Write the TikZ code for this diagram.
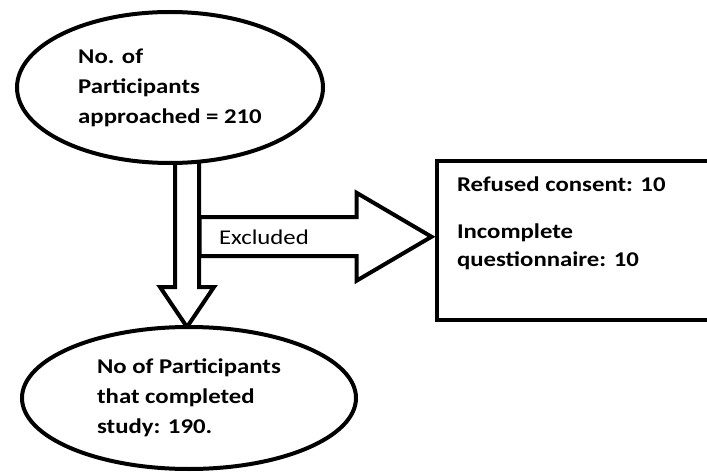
\documentclass[tikz,border=0pt]{standalone}
\usepackage{fontspec}
\setmainfont{Carlito}[FakeStretch=1.18]
\usetikzlibrary{shapes.geometric,calc,backgrounds}

\begin{document}
\begin{tikzpicture}[x=1pt, y=-1pt, line width=4pt,
    stage/.style={ellipse, draw, fill=white, outer sep=0pt, align=left,
      font=\fontsize{21}{30}\selectfont\bfseries},
    blockarrow/.style={draw, fill=white, line width=4pt, line join=miter}]
  \useasboundingbox (0,0) rectangle (707,473);
  \clip (0,0) rectangle (707,473);
  % the two counts
  \node (approached) [stage, minimum width=306pt, minimum height=151pt] at (170,87.5)
    {No. of\\Participants\\approached = 210};
  \node (completed) [stage, minimum width=334pt, minimum height=142pt] at (189,398)
    {No of Participants\\that completed\\study: 190.};
  % exclusions
  \node (excl) [draw, rectangle, outer sep=0pt, minimum width=284pt,
    minimum height=158.5pt, anchor=north west] at (436.5,161.5) {};
  \node (reasons) [anchor=north west, inner sep=0pt, align=left,
    font=\fontsize{21}{28}\selectfont\bfseries] at ($(excl.north west)+(18.5,13)$)
    {Refused consent: 10\\[19pt]Incomplete\\questionnaire: 10};
  \node (exlabel) [anchor=base west, inner sep=0pt, font=\fontsize{21}{25}\selectfont]
    at (217,245) {Excluded};
  \begin{scope}[on background layer]
    \draw[blockarrow] ($(completed.north)+(-2,0)$) -- ++(27,-40) -- ++(-15,0)
      -- ++(0,-150) -- ++(-24,0) -- ++(0,150) -- ++(-15,0) -- cycle;
    \draw[blockarrow] ($(excl.west)+(-5,-4)$) -- ++(-75,-44) -- ++(0,24.5)
      -- ++(-157,0) -- ++(0,39) -- ++(157,0) -- ++(0,24.5) -- cycle;
  \end{scope}
\end{tikzpicture}
\end{document}
